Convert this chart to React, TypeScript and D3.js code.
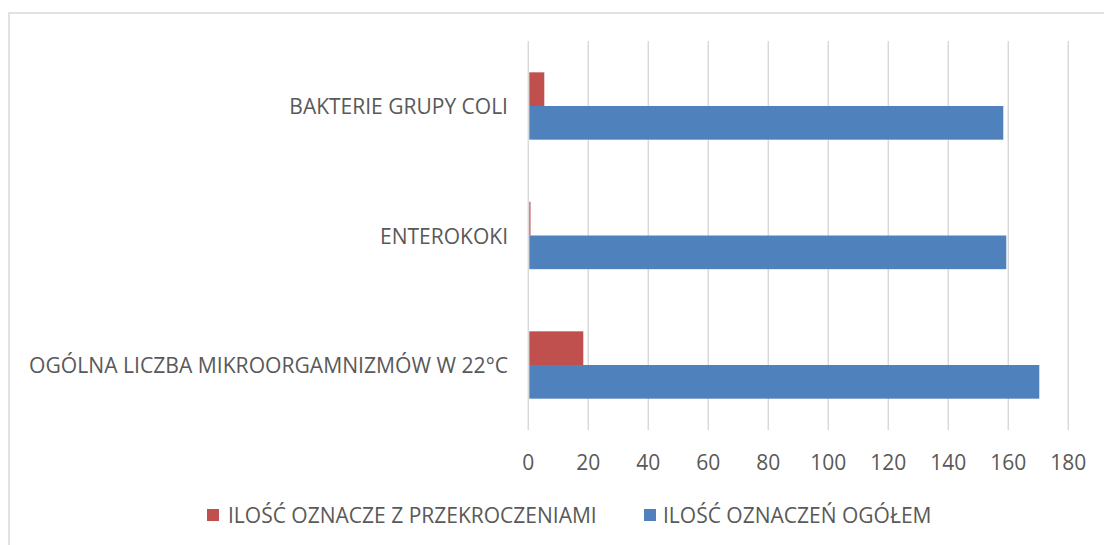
import React from "react";
import * as d3 from "d3";

const categories = [
  "OGÓLNA LICZBA MIKROORGAMNIZMÓW W 22°C",
  "ENTEROKOKI",
  "BAKTERIE GRUPY COLI",
];
const exceedValues = [18, 0.4, 5];
const totalValues = [170, 159, 158];
const xTicks = [0, 20, 40, 60, 80, 100, 120, 140, 160, 180];
const seriesNames = ["ILOŚĆ OZNACZE Z PRZEKROCZENIAMI", "ILOŚĆ OZNACZEŃ OGÓŁEM"];
const seriesColors = ["#C0504D", "#4F81BD"];

const W = 1104;
const H = 545;
const FONT = "'Open Sans', 'DejaVu Sans', sans-serif";
const TEXT = "#595959";

export default function App() {
  const x = d3.scaleLinear().domain([0, 180]).range([528.3, 1068.3]);
  const y = d3
    .scaleBand<string>()
    .domain(categories)
    .range([429.75, 41.25])
    .paddingInner(0.48)
    .paddingOuter(0.24);
  const sub = d3
    .scaleBand<string>()
    .domain(["exceed", "total"])
    .range([0, y.bandwidth()]);

  const gridTop = 41;
  const gridBottom = 430;

  const legend = [
    { name: seriesNames[0], color: seriesColors[0], sx: 207, tx: 228 },
    { name: seriesNames[1], color: seriesColors[1], sx: 644, tx: 663 },
  ];

  return (
    <svg
      width={W}
      height={H}
      style={{ position: "absolute", left: 0, top: 0, background: "#fff" }}
    >
      <rect x={0} y={0} width={W} height={H} fill="#fff" />
      <path d={`M9,${H + 5} V13 H${W + 5}`} fill="none" stroke="#d9d9d9" strokeWidth={1.5} />
      {xTicks.map((t) => (
        <line
          key={"g" + t}
          x1={x(t)}
          x2={x(t)}
          y1={gridTop}
          y2={gridBottom}
          stroke="#d9d9d9"
          strokeWidth={1.5}
        />
      ))}
      {categories.map((c, i) => {
        const y0 = y(c)!;
        return (
          <g key={c}>
            <rect
              x={x(0) + 1}
              y={y0 + sub("exceed")!}
              width={Math.max(0, x(exceedValues[i]) - x(0))}
              height={sub.bandwidth()}
              fill={seriesColors[0]}
            />
            <rect
              x={x(0) + 1}
              y={y0 + sub("total")!}
              width={x(totalValues[i]) - x(0)}
              height={sub.bandwidth()}
              fill={seriesColors[1]}
            />
          </g>
        );
      })}
      {categories.map((c, i) => (
        <text
          key={"l" + c}
          x={508}
          y={y(c)! + y.bandwidth() / 2}
          textAnchor="end"
          dominantBaseline="central"
          fontFamily={FONT}
          fontSize={21}
          fill={TEXT}
          {...(i === 0 ? { textLength: 479, lengthAdjust: "spacingAndGlyphs" } : {})}
        >
          {c}
        </text>
      ))}
      {xTicks.map((t) => (
        <text
          key={"t" + t}
          x={x(t)}
          y={462}
          textAnchor="middle"
          dominantBaseline="central"
          fontFamily={FONT}
          fontSize={21}
          fill={TEXT}
        >
          {t}
        </text>
      ))}
      {legend.map((l) => (
        <g key={l.name}>
          <rect x={l.sx} y={509} width={12} height={12} fill={l.color} />
          <text
            x={l.tx}
            y={515}
            dominantBaseline="central"
            fontFamily={FONT}
            fontSize={21}
            fill={TEXT}
          >
            {l.name}
          </text>
        </g>
      ))}
    </svg>
  );
}
